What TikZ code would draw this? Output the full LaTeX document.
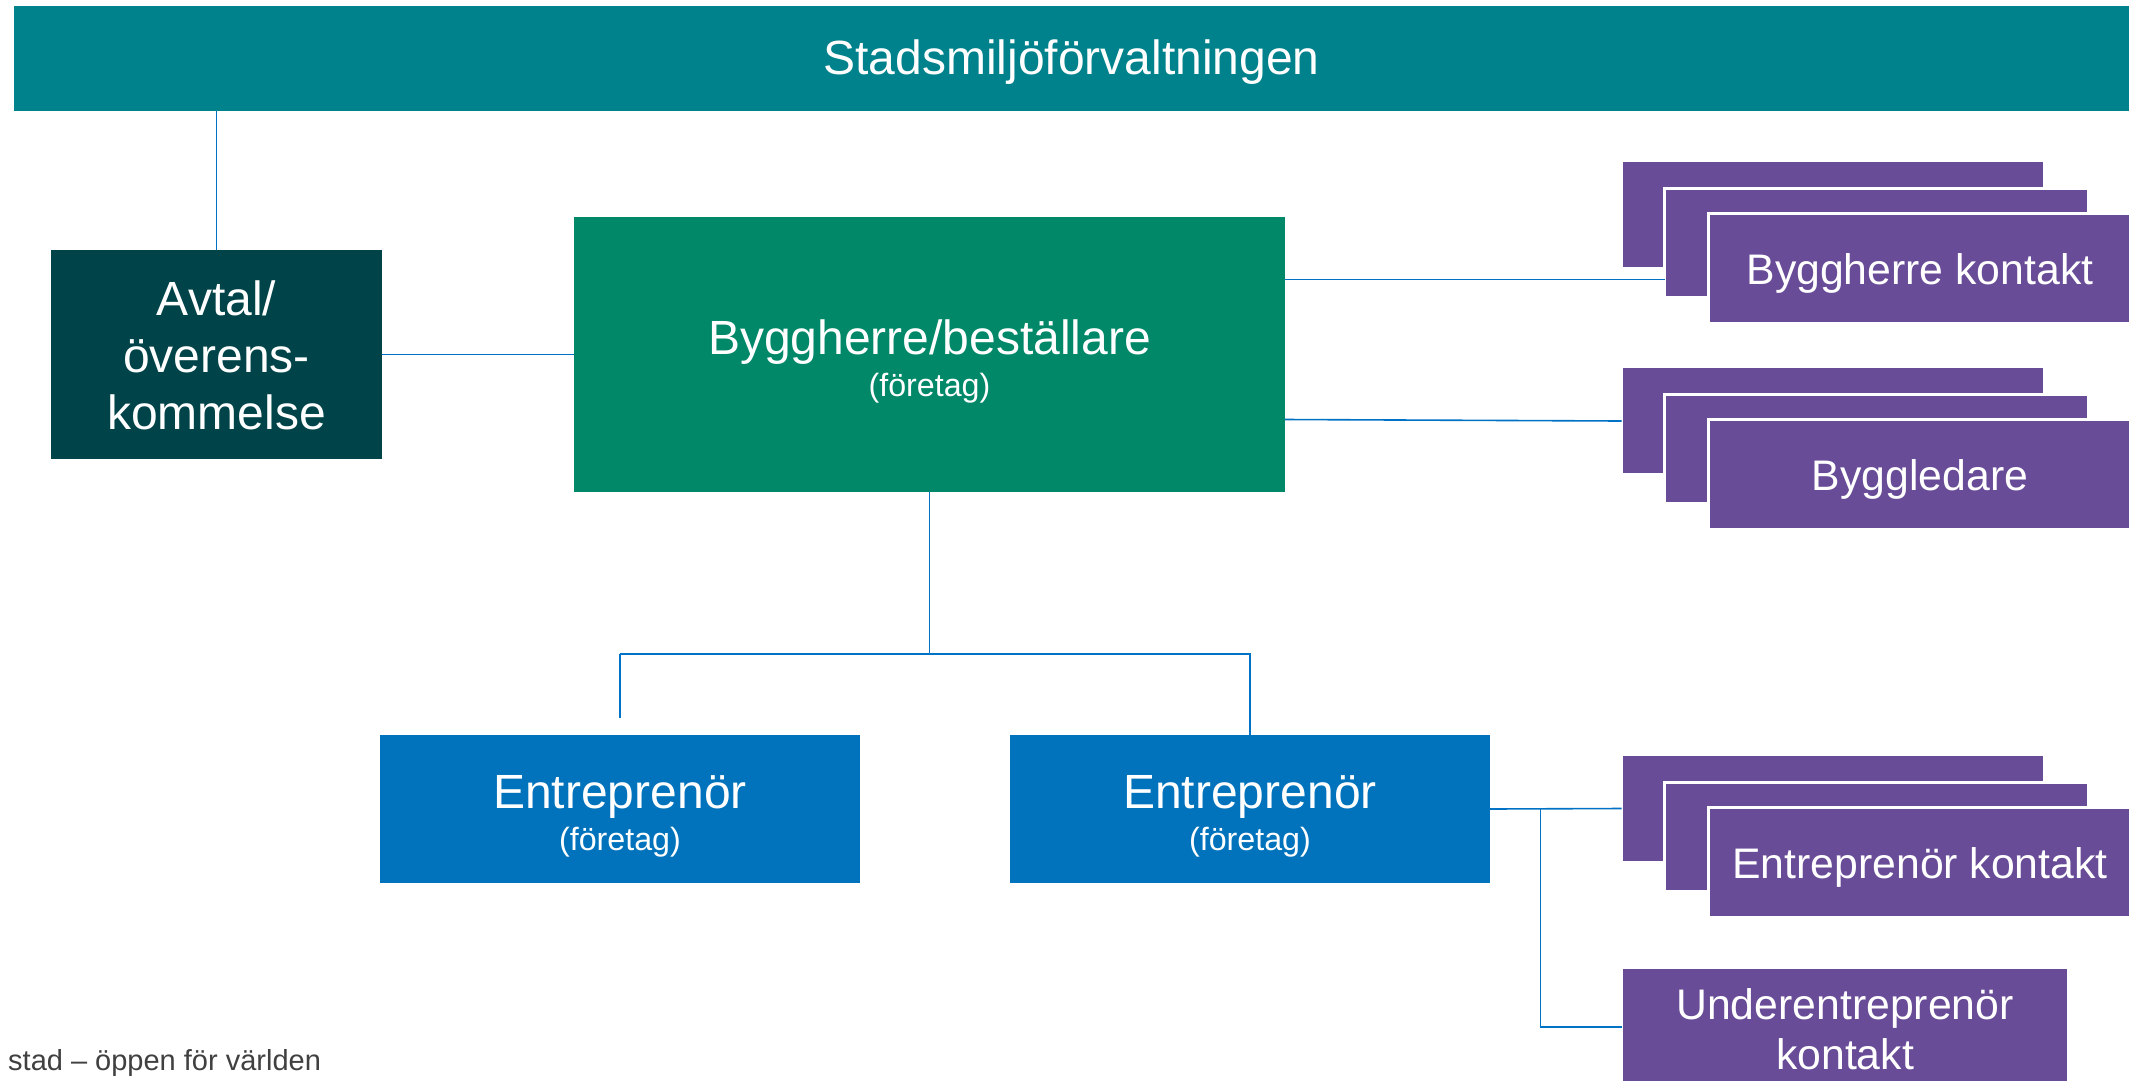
\documentclass[tikz,border=0pt]{standalone}
\usepackage{fontspec}
\setmainfont{Liberation Sans}
\definecolor{cTop}{RGB}{0,130,140}
\definecolor{cAvtal}{RGB}{0,68,73}
\definecolor{cGreen}{RGB}{0,136,104}
\definecolor{cBlue}{RGB}{0,115,188}
\definecolor{cPurple}{RGB}{105,76,152}
\definecolor{cLine}{RGB}{0,114,198}
\definecolor{cFoot}{RGB}{64,64,64}
\begin{document}
\begin{tikzpicture}[x=1pt,y=-1pt,
  box/.style={rectangle, inner sep=0, outer sep=0, draw=none, anchor=north west},
  pbox/.style={rectangle, fill=cPurple, draw=white, line width=3pt, inner sep=0, outer sep=0},
  conn/.style={draw=cLine, line width=1.6pt},
  txtbig/.style={text=white, font=\fontsize{48}{56}\selectfont, anchor=base, inner sep=0},
  txtsmall/.style={text=white, font=\fontsize{32.2}{37}\selectfont, anchor=base, inner sep=0},
  txtmid/.style={text=white, font=\fontsize{42.75}{50}\selectfont, anchor=base, inner sep=0}]
\useasboundingbox (0,0) rectangle (2129,1080);
\fill[white] (0,0) rectangle (2129,1080);

% title bar
\node[box, fill=cTop, minimum width=2130, minimum height=105] (top) at (14,6) {};
\node[txtbig] (toptext) at (1071.5,74) {Stadsmiljöförvaltningen};

% Avtal
\node[box, fill=cAvtal, minimum width=331, minimum height=209] (avtal) at (51,250) {};
\node[txtbig] (avtal1) at (216.5,315) {Avtal/};
\node[txtbig] (avtal2) at (216.5,372) {överens-};
\node[txtbig] (avtal3) at (216.5,429) {kommelse};

% Byggherre
\node[box, fill=cGreen, minimum width=711, minimum height=275] (bygg) at (574,217) {};
\node[txtbig] (bygg1) at (929.5,354) {Byggherre/beställare};
\node[txtsmall] (bygg2) at (929.5,396) {(företag)};

% Entreprenörer
\node[box, fill=cBlue, minimum width=480, minimum height=148] (ent1) at (380,735) {};
\node[txtbig] (ent1a) at (620,808) {Entreprenör};
\node[txtsmall] (ent1b) at (620,850) {(företag)};
\node[box, fill=cBlue, minimum width=480, minimum height=148] (ent2) at (1010,735) {};
\node[txtbig] (ent2a) at (1250,808) {Entreprenör};
\node[txtsmall] (ent2b) at (1250,850) {(företag)};

% purple stacks
\foreach \o/\k/\t in {0/1/Byggherre kontakt, 206/2/Byggledare, 594/3/Entreprenör kontakt}{
  \node[pbox, minimum width=423, minimum height=108] (back\k) at (1833,214.5+\o) {};
  \node[pbox, minimum width=424, minimum height=109] (mid\k) at (1876.5,243+\o) {};
  \node[pbox, minimum width=428, minimum height=110] (front\k) at (1922.5,268.5+\o) {};
  \node[txtmid] (ftext\k) at (1920,284.5+\o) {\t};
}

% Underentreprenör
\node[pbox, anchor=north west, minimum width=447, minimum height=140] (under) at (1621.5,967.5) {};
\node[txtmid] (under1) at (1845,1019) {Underentreprenör};
\node[txtmid] (under2) at (1845,1069) {kontakt};

% connectors
\draw[conn] (top.south -| avtal.north) -- (avtal.north);
\draw[conn] (avtal.east) -- (bygg.west);
\draw[conn] (bygg.east |- 0,279.5) -- (mid1.west |- 0,279.5);
\draw[conn] (bygg.east |- 0,419.5) -- (back2.west |- 0,421);
\coordinate (j) at (929.5,654);
\coordinate (e1) at (620,718);
\draw[conn] (bygg.south) -- (j);
\draw[conn] (ent1.north |- j) -- (ent2.north |- j) -- (ent2.north);
\draw[conn] (ent1.north |- j) -- (e1);
\draw[conn] (ent2.east) -- (back3.west);
\coordinate (br) at (1540.5,808.5);
\draw[conn] (br) |- (under.west |- 0,1027);

% footer
\node[anchor=base west, inner sep=0, text=cFoot, font=\fontsize{29}{35}\selectfont] (foot) at (8,1070) {stad – öppen för världen};
\end{tikzpicture}
\end{document}
